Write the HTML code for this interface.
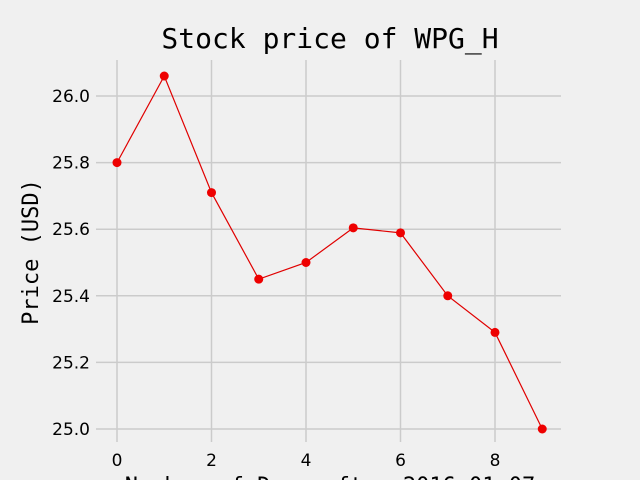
<!DOCTYPE html>
<html><head><meta charset="utf-8"><style>
html,body{margin:0;padding:0;background:#f0f0f0;}
svg{display:block;}
</style></head><body>
<svg id="chart" width="640" height="480" xmlns="http://www.w3.org/2000/svg">
<rect x="0" y="0" width="640" height="480" fill="#f0f0f0"/>
<g id="grid"></g><g id="ticks"></g><g id="series"></g>
<text x="330" y="48" text-anchor="middle" font-family="DejaVu Sans Mono, Liberation Mono, monospace" font-size="28" fill="#000">Stock price of WPG_H</text>
<text transform="translate(38,252) rotate(-90)" text-anchor="middle" font-family="DejaVu Sans Mono, Liberation Mono, monospace" font-size="22" fill="#000">Price (USD)</text>
<text x="330" y="493" text-anchor="middle" font-family="DejaVu Sans Mono, Liberation Mono, monospace" font-size="22" fill="#000">Number of Days after 2016-01-07</text>
</svg>
<script>
const days = [0,1,2,3,4,5,6,7,8,9];
const prices = [25.80,26.06,25.71,25.45,25.50,25.604,25.589,25.40,25.29,25.00];
const xTicks = [0,2,4,6,8];
const yTicks = [25.0,25.2,25.4,25.6,25.8,26.0];
const yTickLabels = ["25.0","25.2","25.4","25.6","25.8","26.0"];
const NS="http://www.w3.org/2000/svg";
const L=96,R=564,T=60,B=442;
function xs(v){return 117+(v-0)*47.25;}
function ys(v){return 429-(v-25.0)*333;}
function mk(tag,attrs,parent){const e=document.createElementNS(NS,tag);for(const k in attrs)e.setAttribute(k,attrs[k]);parent.appendChild(e);return e;}
const grid=document.getElementById('grid'),ticks=document.getElementById('ticks'),series=document.getElementById('series');
xTicks.forEach(v=>{
  const l=mk('line',{x1:xs(v),x2:xs(v),y1:T,y2:B,stroke:'#cbcbcb','stroke-width':1.5},grid);
  
  
  const t=mk('text',{x:xs(v),y:466,'text-anchor':'middle','font-family':'DejaVu Sans, Liberation Sans, sans-serif','font-size':17,fill:'#000'},ticks);
  t.textContent=v;
  
  
});
yTicks.forEach((v,i)=>{
  const l=mk('line',{x1:L,x2:R-3,y1:ys(v),y2:ys(v),stroke:'#cbcbcb','stroke-width':1.5},grid);
  
  
  const t=mk('text',{x:90,y:ys(v)+6,'text-anchor':'end','font-family':'DejaVu Sans, Liberation Sans, sans-serif','font-size':17,fill:'#000'},ticks);
  t.textContent=yTickLabels[i];
  
  
});
const pts=days.map((d,i)=>xs(d)+','+ys(prices[i])).join(' ');
const pl=mk('polyline',{points:pts,fill:'none',stroke:'#e00000','stroke-width':1.2},series);


days.forEach((d,i)=>{
  const c=mk('circle',{cx:xs(d),cy:ys(prices[i]),r:4.5,fill:'#ee0000'},series);
  
  
});
</script>
</body></html>
